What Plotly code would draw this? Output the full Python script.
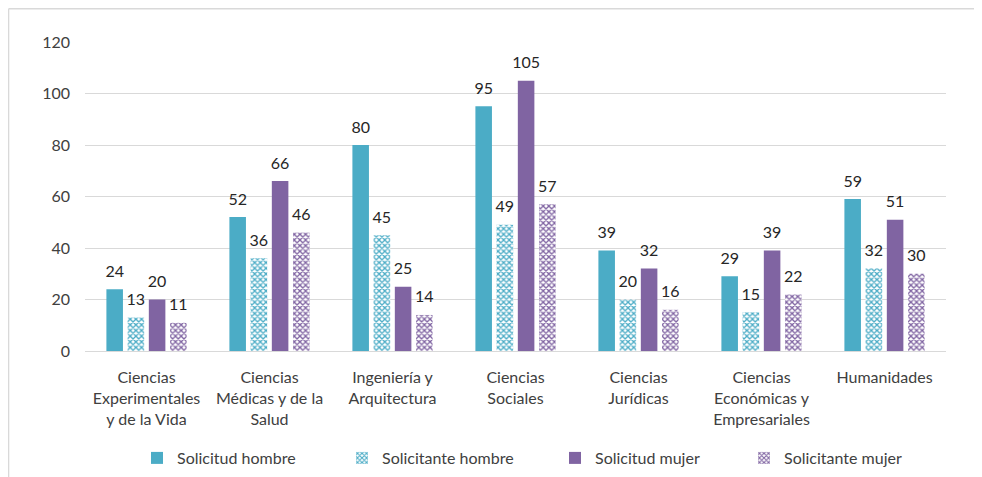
import plotly.graph_objects as go

categorias = [
    "Ciencias<br>Experimentales<br>y de la Vida",
    "Ciencias<br>Médicas y de la<br>Salud",
    "Ingeniería y<br>Arquitectura",
    "Ciencias<br>Sociales",
    "Ciencias<br>Jurídicas",
    "Ciencias<br>Económicas y<br>Empresariales",
    "Humanidades",
]
solicitud_hombre = [24, 52, 80, 95, 39, 29, 59]
solicitante_hombre = [13, 36, 45, 49, 20, 15, 32]
solicitud_mujer = [20, 66, 25, 105, 32, 39, 51]
solicitante_mujer = [11, 46, 14, 57, 16, 22, 30]

cian = "#4BACC6"
morado = "#8064A2"
font = "Lato"
gris = "#404040"

fig = go.Figure()


def serie(nombre, valores, color, patron, grupo, leyenda):
    marker = dict(color=color, line=dict(width=0))
    if patron:
        marker = dict(
            color="white",
            line=dict(width=0),
            pattern=dict(shape="x", fgcolor=color, bgcolor="white",
                         size=4, solidity=0.55, fillmode="replace"),
        )
    fig.add_trace(go.Bar(
        name=nombre, x=categorias, y=valores, marker=marker,
        offsetgroup=grupo, legend=leyenda,
    ))
    # etiquetas de valor encima de cada barra
    fig.add_trace(go.Scatter(
        x=categorias, y=valores, mode="markers+text", text=valores,
        textposition="top center", offsetgroup=grupo,
        marker=dict(size=12, opacity=0),
        textfont=dict(family=font, size=16, color="#262626"),
        showlegend=False, hoverinfo="skip", cliponaxis=False,
    ))


serie("Solicitud hombre", solicitud_hombre, cian, False, "1", "legend")
serie("Solicitante hombre", solicitante_hombre, cian, True, "2", "legend2")
serie("Solicitud mujer", solicitud_mujer, morado, False, "3", "legend3")
serie("Solicitante mujer", solicitante_mujer, morado, True, "4", "legend4")


def leyenda(x):
    return dict(orientation="h", x=x, xanchor="left",
                yref="container", y=0.0405, yanchor="middle",
                font=dict(family=font, size=16, color=gris),
                itemwidth=30, bgcolor="rgba(0,0,0,0)")


fig.update_layout(
    width=974, height=469,
    margin=dict(l=77, r=36, t=34, b=126, autoexpand=False),
    paper_bgcolor="white", plot_bgcolor="white",
    font=dict(family=font, size=16, color=gris),
    barmode="group", bargap=0.31, bargroupgap=0.22,
    scattermode="group", scattergap=0.31,
    showlegend=True,
    legend=leyenda(0.0604),
    legend2=leyenda(0.2985),
    legend3=leyenda(0.5459),
    legend4=leyenda(0.7654),
    xaxis=dict(showline=True, linecolor="#d9d9d9", linewidth=1, ticks="",
               automargin=False, ticklabelstandoff=12,
               tickfont=dict(family=font, size=16, color=gris)),
    yaxis=dict(range=[0, 120], dtick=20, showgrid=True, gridcolor="#d9d9d9",
               zeroline=False, ticks="", ticklabelstandoff=14, automargin=False,
               tickfont=dict(family=font, size=16, color=gris)),
    shapes=[
        dict(type="line", xref="paper", yref="paper", x0=-0.0888, x1=1.0337,
             y0=1.108, y1=1.108, line=dict(color="#d9d9d9", width=1.5)),
        dict(type="line", xref="paper", yref="paper", x0=-0.0888, x1=-0.0888,
             y0=1.108, y1=-0.408, line=dict(color="#d9d9d9", width=1.5)),
    ],
)

fig.write_html("out.html")
